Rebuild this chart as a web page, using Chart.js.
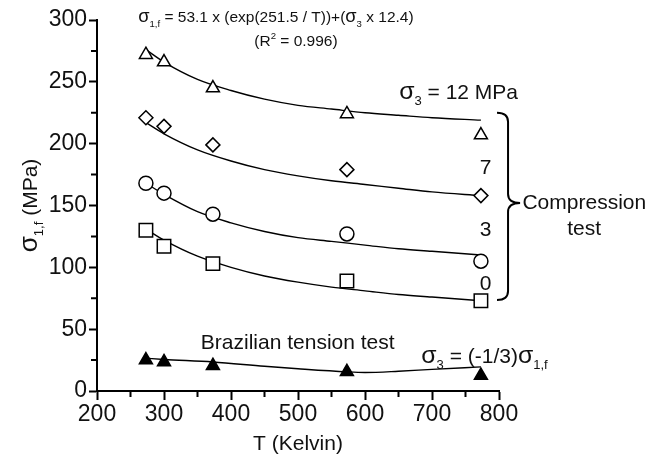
<!DOCTYPE html>
<html>
<head>
<meta charset="utf-8">
<script src="https://cdn.jsdelivr.net/npm/chart.js@4.4.1/dist/chart.umd.min.js"></script>
<style>
html,body{margin:0;padding:0;background:#fff;}
#wrap{width:647px;height:462px;position:relative;}
</style>
</head>
<body>
<div id="wrap"><canvas id="c" width="647" height="462"></canvas></div>
<script>
// ---- data ----
const tempsK = [273, 300, 373, 573, 773];
const sigma12 = [272, 266, 245, 224, 207];
const sigma7  = [221, 214, 199, 179, 158];
const sigma3  = [168, 160, 143, 127, 105];
const sigma0  = [130, 117, 103, 89, 73];
const brazilian = [25, 23.5, 20.5, 15.5, 12.5];

const fitT = [273, 300, 350, 400, 450, 500, 550, 600, 650, 700, 773];
const fit12 = [276, 266, 252, 243, 236, 231, 228, 225, 223, 221, 219];
const fit7  = [217, 208, 195, 186, 179, 174, 170, 167, 164, 161, 158];
const fit3  = [168, 159, 145, 136, 129, 124, 121, 118, 115, 113, 110];
const fit0  = [131, 122, 109, 100, 93, 88, 84, 81, 78, 76, 73];
const fitBrT = [273, 300, 373, 450, 500, 573, 600, 650, 700, 773];
const fitBr  = [26.5, 25.5, 23.5, 20, 18, 15.5, 15, 16, 17.5, 19.5];

const xTicksMajor = [200, 300, 400, 500, 600, 700, 800];
const yTicksMajor = [0, 50, 100, 150, 200, 250, 300];

const FONT = '"Liberation Sans", Arial, sans-serif';

function pts(xs, ys){ return xs.map((x,i)=>({x:x, y:ys[i]})); }

function lineDs(xs, ys){
  return {type:'line', data: pts(xs, ys), showLine:true, pointRadius:0, borderColor:'#000',
          borderWidth:1.4, cubicInterpolationMode:'monotone', fill:false, order:2};
}
function markDs(ys, style, r, fill){
  return {type:'scatter', data: pts(tempsK, ys), showLine:false, pointStyle:style, pointRadius:r,
          pointHoverRadius:r, pointBorderColor:'#000', pointBackgroundColor:fill, pointBorderWidth:1.5, order:1};
}

// rich text helper: parts = [[text, mode, scale]] mode: n, sub, sup
function drawRich(ctx, x, y, parts, size, align){
  const specs = parts.map(([t, m, sc]) => {
    const s = (m === 'n') ? size * (sc || 1) : size * 0.62;
    ctx.font = s + 'px ' + FONT;
    return {t, m, s, w: ctx.measureText(t).width};
  });
  const total = specs.reduce((a,b)=>a+b.w, 0);
  let cx = align === 'center' ? x - total/2 : (align === 'right' ? x - total : x);
  ctx.textAlign = 'left';
  ctx.textBaseline = 'alphabetic';
  specs.forEach(sp => {
    ctx.font = sp.s + 'px ' + FONT;
    let dy = 0;
    if (sp.m === 'sub') dy = size * 0.28;
    if (sp.m === 'sup') dy = -size * 0.42;
    ctx.fillText(sp.t, cx, y + dy);
    cx += sp.w;
  });
}

const SG = 1.18; // sigma glyph scale

const annot = {
  id:'annot',
  afterDraw(chart){
    const ctx = chart.ctx;
    const xs = chart.scales.x, ys = chart.scales.y;
    const X = v => xs.getPixelForValue(v), Y = v => ys.getPixelForValue(v);
    ctx.save();
    ctx.fillStyle = '#111';
    ctx.strokeStyle = '#000';

    // minor ticks
    ctx.lineWidth = 2;
    ctx.beginPath();
    for (let v = 25; v < 300; v += 50){ ctx.moveTo(xs.left - 6, Y(v)); ctx.lineTo(xs.left, Y(v)); }
    for (let v = 250; v < 800; v += 100){ ctx.moveTo(X(v), ys.bottom); ctx.lineTo(X(v), ys.bottom + 6); }
    ctx.stroke();

    // equation
    drawRich(ctx, X(467), Y(303) + 6, [['σ','n',SG],['1,f','sub'],[' = 53.1 x (exp(251.5 / T))+(','n'],['σ','n',SG],['3','sub'],[' x 12.4)','n']], 15.5, 'center');
    drawRich(ctx, X(497), Y(284) + 6, [['(R','n'],['2','sup'],[' = 0.996)','n']], 15.5, 'center');

    // labels
    drawRich(ctx, X(651), Y(242) + 7, [['σ','n',SG],['3','sub'],[' = 12 MPa','n']], 21, 'left');
    drawRich(ctx, X(780), Y(181) + 7, [['7','n']], 21, 'center');
    drawRich(ctx, X(780), Y(131) + 7, [['3','n']], 21, 'center');
    drawRich(ctx, X(780), Y(87) + 7, [['0','n']], 21, 'center');
    drawRich(ctx, X(835), Y(153) + 7, [['Compression','n']], 21, 'left');
    drawRich(ctx, X(927), Y(132) + 7, [['test','n']], 21, 'center');
    drawRich(ctx, X(355), Y(40) + 7, [['Brazilian tension test','n']], 21, 'left');
    drawRich(ctx, X(684), Y(28) + 7, [['σ','n',SG],['3','sub'],[' = (-1/3)','n'],['σ','n',SG],['1,f','sub']], 21, 'left');

    // brace
    const x0 = X(797), x1 = X(813.5), x2 = X(831.5);
    const yt = Y(225), ym = Y(152), yb = Y(73.5), r = 9;
    ctx.lineWidth = 2;
    ctx.beginPath();
    ctx.moveTo(x0, yt);
    ctx.quadraticCurveTo(x1, yt, x1, yt + r);
    ctx.lineTo(x1, ym - r);
    ctx.quadraticCurveTo(x1, ym, x2, ym);
    ctx.quadraticCurveTo(x1, ym, x1, ym + r);
    ctx.lineTo(x1, yb - r);
    ctx.quadraticCurveTo(x1, yb, x0, yb);
    ctx.stroke();

    // axis titles
    const ca = chart.chartArea;
    drawRich(ctx, (ca.left + ca.right)/2, ca.bottom + 59, [['T (Kelvin)','n']], 21, 'center');
    ctx.translate(37, (ca.top + ca.bottom)/2);
    ctx.rotate(-Math.PI/2);
    drawRich(ctx, 0, 0, [['σ','n',1.25],['1,f','sub'],[' (MPa)','n']], 21, 'center');
    ctx.restore();
  }
};

new Chart(document.getElementById('c'), {
  type:'scatter',
  data:{ datasets:[
    lineDs(fitT, fit12), lineDs(fitT, fit7), lineDs(fitT, fit3), lineDs(fitT, fit0), lineDs(fitBrT, fitBr),
    markDs(sigma12, 'triangle', 7.5, '#fff'),
    markDs(sigma7, 'rectRot', 7, '#fff'),
    markDs(sigma3, 'circle', 7, '#fff'),
    markDs(sigma0, 'rect', 9.5, '#fff'),
    markDs(brazilian, 'triangle', 7.5, '#000')
  ]},
  options:{
    responsive:false, animation:false, events:[],
    layout:{padding:{top:20, right:148, left:0, bottom:0}},
    plugins:{legend:{display:false}, tooltip:{enabled:false}},
    scales:{
      x:{ type:'linear', min:200, max:800,
          afterBuildTicks: s => { s.ticks = xTicksMajor.map(v=>({value:v})); },
          afterFit: s => { s.height = 71; },
          ticks:{ color:'#111', font:{family:FONT, size:23}, padding:1, maxRotation:0, autoSkip:false },
          grid:{ drawOnChartArea:false, drawTicks:true, tickLength:9, tickWidth:2, tickColor:'#000' },
          border:{ display:true, color:'#000', width:2 } },
      y:{ type:'linear', min:0, max:300,
          afterBuildTicks: s => { s.ticks = yTicksMajor.map(v=>({value:v})); },
          afterFit: s => { s.width = 97; },
          ticks:{ color:'#111', font:{family:FONT, size:23}, padding:2 },
          grid:{ drawOnChartArea:false, drawTicks:true, tickLength:8, tickWidth:2, tickColor:'#000' },
          border:{ display:true, color:'#000', width:2 } }
    }
  },
  plugins:[annot]
});
</script>
</body>
</html>
